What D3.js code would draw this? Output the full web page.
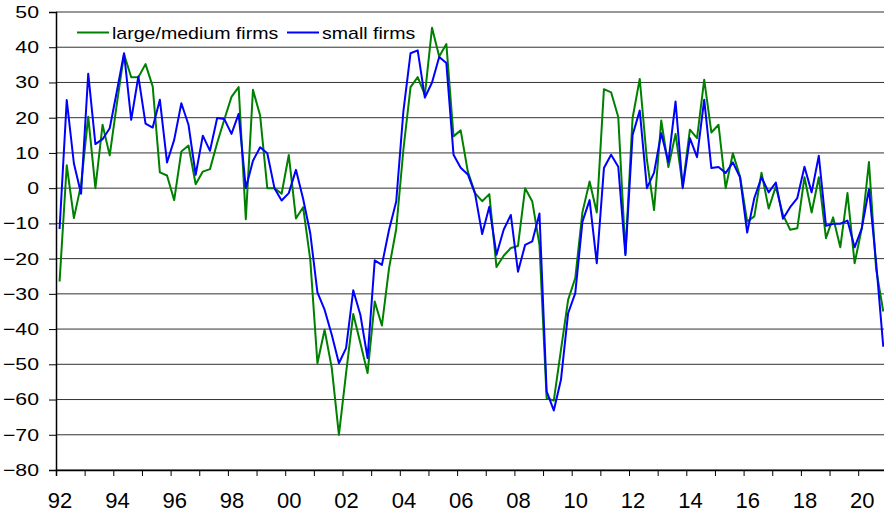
<!DOCTYPE html>
<html>
<head>
<meta charset="utf-8">
<script src="https://cdn.jsdelivr.net/npm/d3@7"></script>
<style>
  body { margin: 0; background: #fff; }
  svg { display: block; font-family: "Liberation Sans", Arial, sans-serif; }
</style>
</head>
<body>
<div id="chart"></div>
<script>
// quarterly survey balance, 1992Q1 .. 2020Q4
var startYear = 1992;

var largeFirms = [
  -26.5, 6.5, -8.5, 1, 20.3, 0, 18, 9.3, 24, 38, 31.5, 31.5, 35.2, 28.9, 4.5, 3.6,
  -3.4, 10.4, 12.1, 1.1, 4.7, 5.4, 12.8, 19.5, 25.9, 28.7, -8.8, 27.9, 20.6, 0, 0, -1.6,
  9.4, -8.6, -5.4, -20.3, -49.7, -40.2, -51, -70, -52.5, -35.7, -44, -52.5, -32.2, -39, -22.7, -11.6,
  10.9, 28.7, 31.5, 26.5, 45.5, 37.4, 40.9, 14.7, 16.4, 4.7, -1.4, -3.7, -1.7, -22.4, -19.2, -17,
  -16.4, 0, -3.8, -16.1, -59.6, -60.3, -45.9, -31.7, -25.5, -6.8, 1.9, -6.9, 28.1, 27.2, 20.2, -18.5,
  19.9, 31, 8, -6.2, 19.2, 6, 15.4, 0.5, 16.6, 14.2, 30.8, 15.8, 18, 0, 9.9, 3.3,
  -9.5, -8, 4.4, -5.8, 0.5, -7.6, -11.8, -11.4, 3.1, -6.9, 3.1, -14.2, -8.3, -16.8, -1.4, -21.3,
  -11.4, 7.4, -23, -35
];

var smallFirms = [
  -11.6, 25, 7, -1.6, 32.5, 12.5, 13.9, 17, 27.5, 38.3, 19.4, 31.7, 18.3, 17.2, 25.1, 7.3,
  13.7, 24.1, 18, 3.8, 14.9, 10.6, 19.9, 19.6, 15.4, 21.1, 0, 7.8, 11.6, 9.9, 0, -3.5,
  -1.4, 5.2, -3, -12.8, -29.6, -34.5, -41.6, -49.7, -45.4, -29, -36, -48.2, -20.5, -21.8, -11.8, -3.8,
  21.8, 38.3, 39.1, 25.7, 30, 37.2, 35.5, 9.5, 5.8, 3.9, -1.5, -13, -5.3, -18.9, -11.8, -7.6,
  -23.7, -16.1, -15.1, -7.2, -57.7, -63.1, -54.4, -35.5, -29.8, -9.5, -3.4, -21.3, 5.7, 9.5, 6.1, -19,
  15.1, 22, 0, 4.4, 15.6, 7.4, 24.6, 0, 14.2, 8.8, 25.1, 5.7, 6, 4.3, 7.3, 3.1,
  -12.6, -2.8, 3.1, -1.2, 1.6, -8.7, -5.4, -2.8, 6.1, -1.2, 9.2, -10.7, -10.1, -10.1, -9.2, -16.8,
  -11.4, -0.3, -21, -45
];

var yearLabels = ["92", "94", "96", "98", "00", "02", "04", "06", "08", "10", "12", "14", "16", "18", "20"];
var yTicks = [50, 40, 30, 20, 10, 0, -10, -20, -30, -40, -50, -60, -70, -80];

// size of the page
var width = 884;
var height = 513;
var plotLeft = 56;
var plotTop = 12;
var plotBottom = 470;
var quarterW = 7.1625;

var svg = d3.select("#chart")
  .append("svg")
  .attr("width", width)
  .attr("height", height);

// x in quarters since 1992Q1
var xScale = d3.scaleLinear()
  .domain([0, largeFirms.length])
  .range([plotLeft, plotLeft + largeFirms.length * quarterW]);

var yScale = d3.scaleLinear()
  .domain([-80, 50])
  .range([plotBottom, plotTop]);

// horizontal grid
svg.append("g")
  .selectAll("line")
  .data(yTicks)
  .enter()
  .append("line")
  .attr("x1", plotLeft)
  .attr("x2", width)
  .attr("y1", function(d) { return yScale(d); })
  .attr("y2", function(d) { return yScale(d); })
  .attr("stroke", "#333")
  .attr("stroke-width", 1);

// y axis
var yAxis = d3.axisLeft(yScale)
  .tickValues(yTicks)
  .tickSize(7)
  .tickPadding(10)
  .tickFormat(d3.format("d"));

var yG = svg.append("g")
  .attr("transform", "translate(" + plotLeft + ",0)")
  .call(yAxis);
yG.select(".domain").attr("stroke", "#000").attr("stroke-width", 1.5);
yG.selectAll(".tick line").attr("stroke", "#000");
yG.selectAll("text")
  .attr("font-size", "17px")
  .attr("fill", "#000")
  .each(function() {
    var w = this.getComputedTextLength();
    d3.select(this).attr("textLength", w * 1.25).attr("lengthAdjust", "spacingAndGlyphs");
  });

// x axis: one tick per year
var yearTicks = d3.range(0, largeFirms.length + 1, 4);
var xAxis = d3.axisBottom(xScale)
  .tickValues(yearTicks)
  .tickSize(6)
  .tickFormat("");

var xG = svg.append("g")
  .attr("transform", "translate(0," + plotBottom + ")")
  .call(xAxis);
xG.select(".domain").attr("stroke", "#000").attr("stroke-width", 1.5);
xG.selectAll(".tick line").attr("stroke", "#000");

// labels every 2 years, centred on the first quarter
var xLabelAxis = d3.axisBottom(xScale)
  .tickValues(yearLabels.map(function(d, i) { return i * 8 + 0.5; }))
  .tickSize(0)
  .tickPadding(22)
  .tickFormat(function(d, i) { return yearLabels[i]; });

var xlG = svg.append("g")
  .attr("transform", "translate(0," + plotBottom + ")")
  .call(xLabelAxis);
xlG.select(".domain").remove();
xlG.selectAll("text").attr("font-size", "22px").attr("fill", "#000");

// lines
var line = d3.line()
  .x(function(d, i) { return xScale(i + 0.5); })
  .y(function(d) { return yScale(d); });

svg.append("path")
  .datum(largeFirms)
  .attr("d", line)
  .attr("fill", "none")
  .attr("stroke", "#008000")
  .attr("stroke-width", 2)
  .attr("stroke-linejoin", "round");

svg.append("path")
  .datum(smallFirms)
  .attr("d", line)
  .attr("fill", "none")
  .attr("stroke", "#0000ff")
  .attr("stroke-width", 2)
  .attr("stroke-linejoin", "round");

// legend
var legend = [
  { name: "large/medium firms", color: "#008000", x: 77 },
  { name: "small firms", color: "#0000ff", x: 287 }
];

var lg = svg.append("g");
legend.forEach(function(d) {
  lg.append("line")
    .attr("x1", d.x)
    .attr("x2", d.x + 32)
    .attr("y1", 32.5)
    .attr("y2", 32.5)
    .attr("stroke", d.color)
    .attr("stroke-width", 2);
  lg.append("text")
    .attr("x", d.x + 35)
    .attr("y", 38.5)
    .attr("font-size", "17px")
    .attr("fill", "#000")
    .text(d.name)
    .each(function() {
      var w = this.getComputedTextLength();
      d3.select(this).attr("textLength", w * 1.15).attr("lengthAdjust", "spacingAndGlyphs");
    });
});
</script>
</body>
</html>
